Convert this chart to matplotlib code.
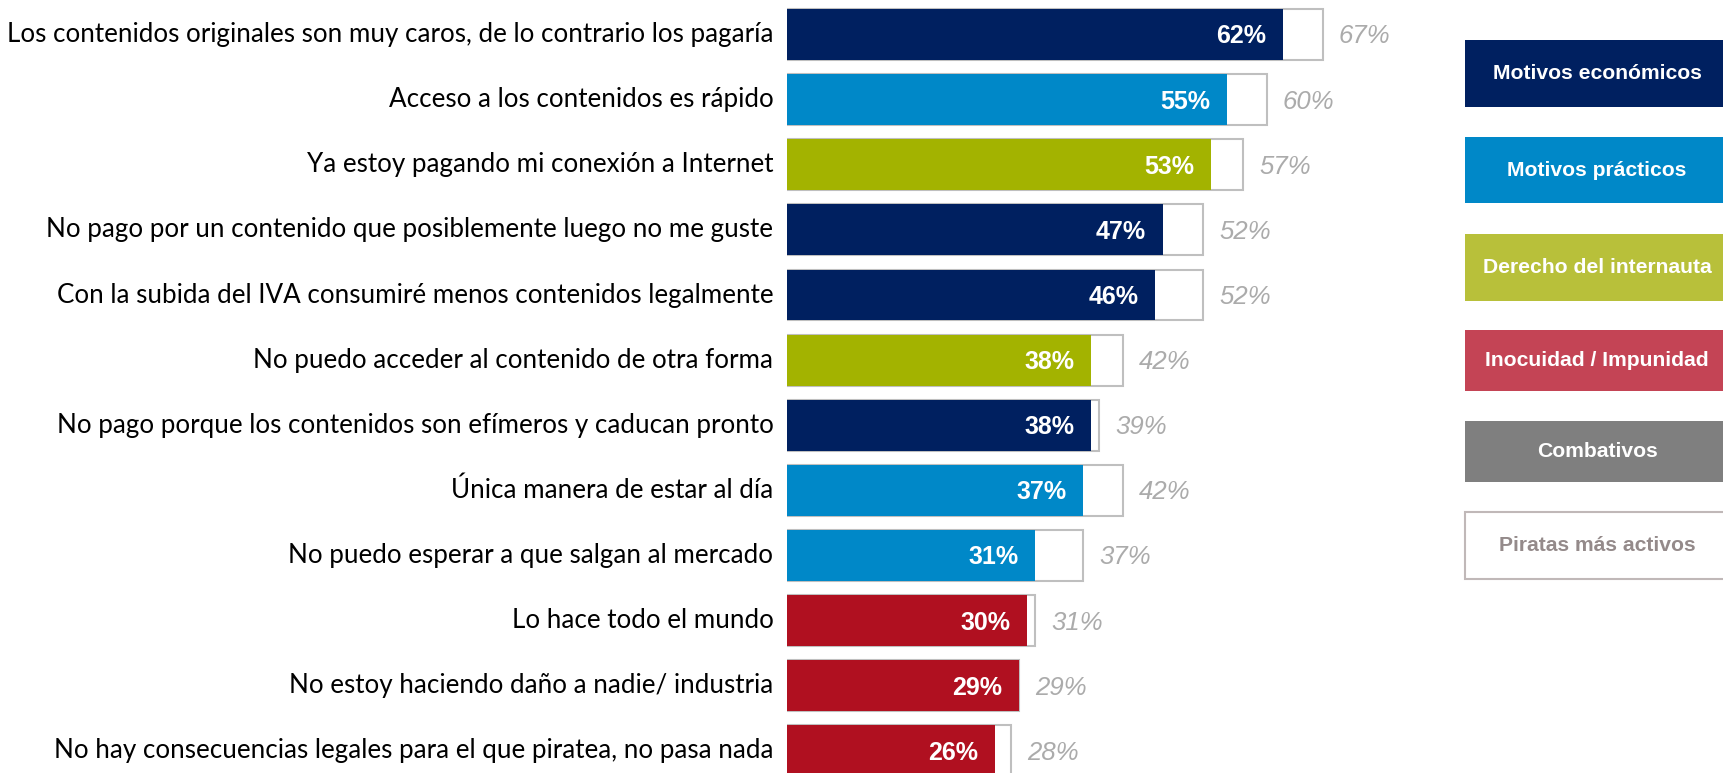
import matplotlib
matplotlib.use("Agg")
import matplotlib.pyplot as plt
from matplotlib.patches import Rectangle

categories = [
    "Los contenidos originales son muy caros, de lo contrario los pagaría",
    "Acceso a los contenidos es rápido",
    "Ya estoy pagando mi conexión a Internet",
    "No pago por un contenido que posiblemente luego no me guste",
    "Con la subida del IVA consumiré menos contenidos legalmente",
    "No puedo acceder al contenido de otra forma",
    "No pago porque los contenidos son efímeros y caducan pronto",
    "Única manera de estar al día",
    "No puedo esperar a que salgan al mercado",
    "Lo hace todo el mundo",
    "No estoy haciendo daño a nadie/ industria",
    "No hay consecuencias legales para el que piratea, no pasa nada",
]
total_values = [62, 55, 53, 47, 46, 38, 38, 37, 31, 30, 29, 26]
active_values = [67, 60, 57, 52, 52, 42, 39, 42, 37, 31, 29, 28]
groups = ["eco", "prac", "der", "eco", "eco", "der", "eco", "prac", "prac", "ino", "ino", "ino"]

legend_labels = ["Motivos económicos", "Motivos prácticos", "Derecho del internauta",
                 "Inocuidad / Impunidad", "Combativos", "Piratas más activos"]

bar_colors = {"eco": "#002060", "prac": "#0088C8", "der": "#A3B300", "ino": "#B01020"}
legend_colors = ["#002060", "#0088C8", "#B8C03A", "#C44455", "#7F7F7F", "white"]

W, H = 1723, 773
fig = plt.figure(figsize=(W / 100, H / 100), dpi=100)

# axes: x 0..100 spanning 800 px from x=787 (8 px per %)
ax = fig.add_axes([787 / W, 0, 800 / W, 1])
ax.set_xlim(0, 100)
ax.set_ylim(11.34, -0.53)
ax.axis("off")

y = list(range(len(categories)))
ax.barh(y, active_values, height=0.78, color="white", edgecolor="#BFBFBF", linewidth=1.5, zorder=1)
ax.barh(y, total_values, height=0.78, color=[bar_colors[g] for g in groups], linewidth=0, zorder=2)

for i, (cat, tv, av) in enumerate(zip(categories, total_values, active_values)):
    ax.text(-1.7, i, cat, ha="right", va="center", fontsize=18.7, family="Lato", color="black")
    ax.text(tv - 2.1, i + 0.03, f"{tv}%", ha="right", va="center", fontsize=18,
            family="Liberation Sans", fontweight="bold", color="white", zorder=3)
    ax.text(av + 2.0, i + 0.03, f"{av}%", ha="left", va="center", fontsize=18.5,
            family="Liberation Sans", style="italic", color="#ABABAB")

# legend boxes
box_tops = [40, 137, 234, 330, 421, 512]
box_heights = [67, 66, 67, 61, 61, 67]
for lab, col, top, bh in zip(legend_labels, legend_colors, box_tops, box_heights):
    x0 = 1465
    if col == "white":
        r = Rectangle((x0 / W, 1 - (top + bh) / H), 280 / W, bh / H, transform=fig.transFigure,
                      facecolor="white", edgecolor="#C0B8B8", linewidth=1.5)
        tcol = "#948A8A"
    else:
        r = Rectangle((x0 / W, 1 - (top + bh) / H), 280 / W, bh / H, transform=fig.transFigure,
                      facecolor=col, edgecolor="none")
        tcol = "white"
    fig.add_artist(r)
    fig.text(1597 / W, 1 - (top + bh / 2) / H, lab, ha="center", va="center", fontsize=15.2,
             family="Liberation Sans", fontweight="bold", color=tcol)

fig.savefig("out.png", dpi=100, facecolor="white")
